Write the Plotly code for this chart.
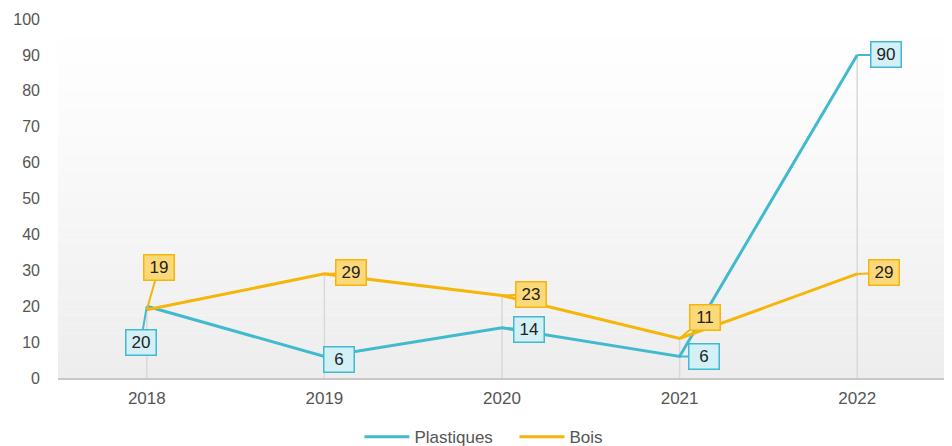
import plotly.graph_objects as go

years = ["2018", "2019", "2020", "2021", "2022"]
plastiques = [20, 6, 14, 6, 90]
bois = [19, 29, 23, 11, 29]
y_ticks = [0, 10, 20, 30, 40, 50, 60, 70, 80, 90, 100]

# label offsets (pixels) for callouts
plast_off = [(-6, 36), (15, 3), (27, 2), (24, 0), (29, 0)]
bois_off = [(12, -42), (27, -1), (29, -1), (25, -21), (27, -1)]

c_plast = "#41b9cf"
c_bois = "#f5b50a"
fill_plast = "#d3f0f6"
fill_bois = "#fcd978"

fig = go.Figure()

# drop lines from axis to the higher value of each year
xs, ys = [], []
for yr, a, b in zip(years, plastiques, bois):
    xs += [yr, yr, None]
    ys += [0, max(a, b), None]
fig.add_trace(go.Scatter(x=xs, y=ys, mode="lines", line=dict(color="#d9d9d9", width=1.5),
                         showlegend=False, hoverinfo="skip"))

fig.add_trace(go.Scatter(x=years, y=plastiques, mode="lines", name="Plastiques",
                         line=dict(color=c_plast, width=3)))
fig.add_trace(go.Scatter(x=years, y=bois, mode="lines", name="Bois",
                         line=dict(color=c_bois, width=3)))

annotations = []
for vals, offs, col, fill in [(plastiques, plast_off, c_plast, fill_plast),
                              (bois, bois_off, c_bois, fill_bois)]:
    for i, (v, (ax, ay)) in enumerate(zip(vals, offs)):
        annotations.append(dict(
            x=i, y=v, xref="x", yref="y", text=str(v),
            showarrow=True, ax=ax, ay=ay, arrowhead=0, arrowwidth=2, arrowcolor=col,
            bgcolor=fill, bordercolor=col, borderwidth=1.5, borderpad=3,
            width=23, height=18,
            font=dict(family="Liberation Sans, Arial, sans-serif", size=17, color="#222222"),
        ))

# gradient background for plot area
shapes = []
n = 40
for i in range(n):
    t = i / (n - 1)
    g = int(round(255 - 18 * (1 - t) ** 1.2))
    shapes.append(dict(type="rect", xref="paper", yref="paper", x0=0, x1=1,
                       y0=i / n, y1=(i + 1) / n, fillcolor=f"rgb({g},{g},{g})",
                       line=dict(width=0), layer="below"))

fig.update_layout(
    width=944, height=438,
    margin=dict(l=50, r=6, t=11, b=68, autoexpand=False),
    paper_bgcolor="white", plot_bgcolor="white",
    shapes=shapes, annotations=annotations,
    font=dict(family="Liberation Sans, Arial, sans-serif", size=14, color="#666666"),
    xaxis=dict(type="category", range=[-0.5, 4.5], showgrid=False, zeroline=False,
               showline=True, linecolor="#c8c8c8", linewidth=1.5, ticks="",
               automargin=False, ticklabelstandoff=4,
               tickfont=dict(size=17, color="#555555")),
    yaxis=dict(range=[0, 100], tickvals=y_ticks, showgrid=False, zeroline=False,
               showline=False, ticks="", ticklabelstandoff=17, automargin=False,
               tickfont=dict(size=16, color="#555555")),
    legend=dict(orientation="h", x=0.514, xanchor="center", y=-0.165, yanchor="middle",
                font=dict(size=17, color="#555555"), itemwidth=45, entrywidth=95),
)

fig.write_html("out.html")
